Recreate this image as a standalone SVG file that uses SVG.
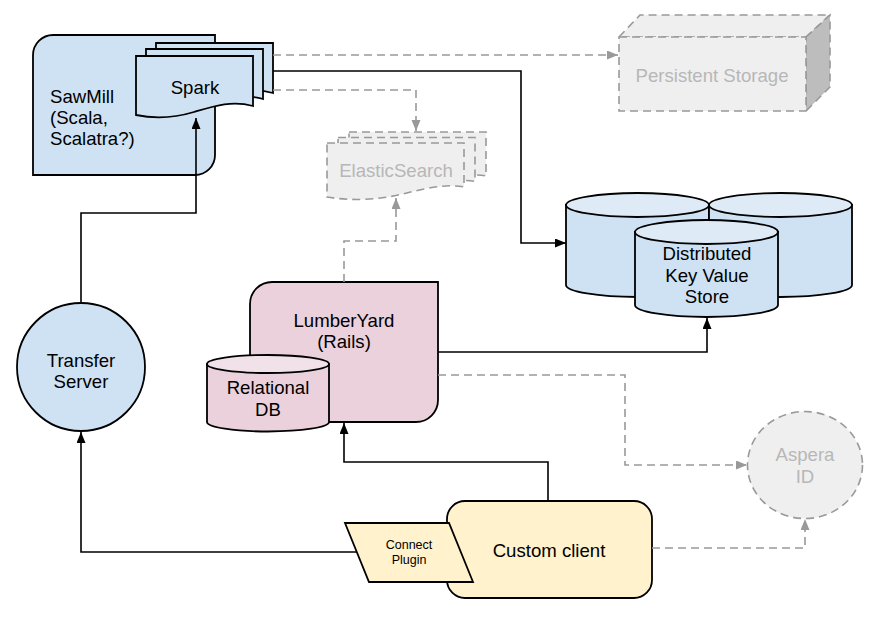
<svg xmlns="http://www.w3.org/2000/svg" width="887" height="622" viewBox="0 0 887 622">
<style>
text{font-family:"Liberation Sans",Arial,sans-serif;font-size:18.6px;fill:#000;text-anchor:middle}
.blue{fill:#cfe2f3;stroke:#000;stroke-width:1.8}
.bluetop{fill:#deeaf6;stroke:#000;stroke-width:1.8}
.pink{fill:#ead1dc;stroke:#000;stroke-width:1.8}
.pinktop{fill:#f1e1e8;stroke:#000;stroke-width:1.8}
.yellow{fill:#fff2cc;stroke:#000;stroke-width:1.8}
.ghost{fill:#efefef;stroke:#999;stroke-width:1.6;stroke-dasharray:8 5}
.ghostside{fill:#bdbdbd;stroke:#999;stroke-width:1.6;stroke-dasharray:8 5}
.gt{fill:#b7b7b7}
.c{fill:none;stroke:#000;stroke-width:1.6}
.d{fill:none;stroke:#999;stroke-width:1.6;stroke-dasharray:8 5}
</style>
<defs>
<marker id="ab" markerUnits="userSpaceOnUse" markerWidth="12" markerHeight="10" refX="11" refY="4.5" orient="auto"><path d="M0,0 L11,4.5 L0,9 Z" fill="#000"/></marker>
<marker id="ag" markerUnits="userSpaceOnUse" markerWidth="12" markerHeight="10" refX="11" refY="4.5" orient="auto"><path d="M0,0 L11,4.5 L0,9 Z" fill="#999"/></marker>
</defs>
<g id="sawmill">
<path class="blue" d="M53,35 H215 V155 A20,20 0 0 1 195,175 H33 V55 A20,20 0 0 1 53,35 Z"/>
<text x="50" y="103" style="text-anchor:start">SawMill</text>
<text x="50" y="124" style="text-anchor:start">(Scala,</text>
<text x="50" y="145" style="text-anchor:start">Scalatra?)</text>
</g>
<g id="spark">
<path class="blue" transform="translate(20,-13)" d="M136,56 H253 V106 C232,100 214,106 194,112 C174,118 155,119 136,115 Z"/>
<path class="blue" transform="translate(10,-7)" d="M136,56 H253 V106 C232,100 214,106 194,112 C174,118 155,119 136,115 Z"/>
<path class="blue" d="M136,56 H253 V106 C232,100 214,106 194,112 C174,118 155,119 136,115 Z"/>
<text x="195" y="94">Spark</text>
</g>
<g id="persistent-storage">
<path class="ghost" d="M619,37 L640,15 H830 L806,37 Z"/>
<path class="ghostside" d="M806,37 L830,15 V87 L806,111 Z"/>
<rect class="ghost" x="619" y="37" width="187" height="74"/>
<text class="gt" x="712" y="82">Persistent Storage</text>
</g>
<g id="elasticsearch">
<path class="ghost" transform="translate(22,-11)" d="M327,143 H464 V187 C443,183 420,190 398,195 C376,200 350,201 327,197 Z"/>
<path class="ghost" transform="translate(11,-5.5)" d="M327,143 H464 V187 C443,183 420,190 398,195 C376,200 350,201 327,197 Z"/>
<path class="ghost" d="M327,143 H464 V187 C443,183 420,190 398,195 C376,200 350,201 327,197 Z"/>
<text class="gt" x="396" y="177">ElasticSearch</text>
</g>
<g id="kv-store">
<path class="blue" d="M566,205 V285 A71.5,12 0 0 0 709,285 V205 Z"/>
<ellipse class="bluetop" cx="637.5" cy="205" rx="71.5" ry="12"/>
<path class="blue" d="M709,205 V285 A71.5,12 0 0 0 852,285 V205 Z"/>
<ellipse class="bluetop" cx="780.5" cy="205" rx="71.5" ry="12"/>
<path class="blue" d="M635,232 V305 A71.5,12 0 0 0 778,305 V232 Z"/>
<ellipse class="bluetop" cx="706.5" cy="232" rx="71.5" ry="12"/>
<text x="707" y="260">Distributed</text>
<text x="707" y="281.5">Key Value</text>
<text x="707" y="303">Store</text>
</g>
<g id="lumberyard">
<path class="pink" d="M272,282 H438 V400 A22,22 0 0 1 416,422 H250 V304 A22,22 0 0 1 272,282 Z"/>
<text x="344" y="327">LumberYard</text>
<text x="344" y="348">(Rails)</text>
</g>
<g id="relational-db">
<path class="pink" d="M207,364 V422 A61,9.5 0 0 0 329,422 V364 Z"/>
<ellipse class="pinktop" cx="268" cy="364" rx="61" ry="9"/>
<text x="268" y="394">Relational</text>
<text x="268" y="416">DB</text>
</g>
<g id="transfer-server">
<circle class="blue" cx="81" cy="367" r="64"/>
<text x="81" y="367">Transfer</text>
<text x="81" y="388">Server</text>
</g>
<g id="custom-client">
<rect class="yellow" x="447" y="501" width="205" height="97" rx="18"/>
<text x="549" y="557">Custom client</text>
</g>
<g id="connect-plugin">
<path class="yellow" d="M345,523 H449 L473,582 H369 Z"/>
<text x="409" y="549" style="font-size:12.5px">Connect</text>
<text x="409" y="564" style="font-size:12.5px">Plugin</text>
</g>
<g id="aspera-id">
<ellipse class="ghost" cx="805" cy="465" rx="57.5" ry="53.5"/>
<text class="gt" x="805" y="461">Aspera</text>
<text class="gt" x="805" y="483">ID</text>
</g>
<g id="connectors">
<path class="c" d="M81,303 V213 H196 V118" marker-end="url(#ab)"/>
<path class="c" d="M357,552 H81 V432" marker-end="url(#ab)"/>
<path class="c" d="M548,501 V462 H344 V423" marker-end="url(#ab)"/>
<path class="c" d="M438,352 H707 V318" marker-end="url(#ab)"/>
<path class="c" d="M273,71 H521 V243 H566" marker-end="url(#ab)"/>
<path class="d" d="M273,55 H618" marker-end="url(#ag)"/>
<path class="d" d="M273,90 H416 V131" marker-end="url(#ag)"/>
<path class="d" d="M344,282 V241 H396 V198" marker-end="url(#ag)"/>
<path class="d" d="M438,375 H625 V465 H747" marker-end="url(#ag)"/>
<path class="d" d="M652,548 H805 V519" marker-end="url(#ag)"/>
</g>
</svg>
